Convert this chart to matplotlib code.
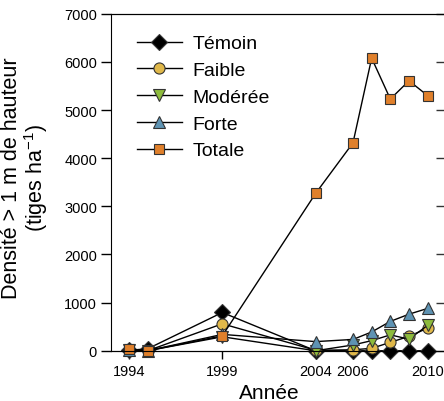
import matplotlib
matplotlib.use("Agg")
import matplotlib.pyplot as plt

plt.rcParams['font.family'] = ['Liberation Sans', 'DejaVu Sans']
plt.rcParams['mathtext.default'] = 'regular'

years = [1994, 1995, 1999, 2004, 2006, 2007, 2008, 2009, 2010]
temoin = [10, 40, 795, 0, 0, 0, 0, 0, 0]
faible = [25, 0, 560, 10, 20, 50, 175, 300, 470]
moderee = [15, 0, 290, 0, 120, 210, 330, 240, 530]
forte = [20, 0, 340, 190, 235, 390, 610, 760, 880]
totale = [35, 0, 310, 3270, 4320, 6080, 5230, 5610, 5300]

xticks = [1994, 1999, 2004, 2006, 2010]
yticks = [0, 1000, 2000, 3000, 4000, 5000, 6000, 7000]

series = [
    ('Témoin', temoin, 'D', 'black', 8.5),
    ('Faible', faible, 'o', '#E0B84A', 8),
    ('Modérée', moderee, 'v', '#8DBB3C', 8.5),
    ('Forte', forte, '^', '#5E93B3', 8.5),
    ('Totale', totale, 's', '#E0802B', 7.5),
]

fig = plt.figure(figsize=(4.44, 4.02), dpi=100)
ax = fig.add_axes([0.25, 0.125, 0.749, 0.838])

for name, vals, mk, col, ms in series:
    ax.plot(years, vals, color='black', lw=1, marker=mk, markersize=ms,
            markerfacecolor=col, markeredgecolor='#333333', markeredgewidth=0.8,
            label=name, clip_on=False, zorder=3)

ax.set_xlim(1993.04, 2010.85)
ax.set_ylim(0, 7000)
ax.set_xticks(xticks)
ax.set_yticks(yticks)
ax.tick_params(axis='both', labelsize=10.5, width=1)
ax.tick_params(axis='y', length=7, direction='out', pad=3)
ax.tick_params(axis='x', length=6, direction='out')
ax.spines['right'].set_visible(False)

# right-hand ticks pointing inward
ax2 = ax.twinx()
ax2.set_ylim(0, 7000)
ax2.set_yticks(yticks)
ax2.tick_params(axis='y', direction='in', length=5.5, width=1, labelright=False,
                right=True, color='#333333')
ax2.spines['right'].set_visible(False)
ax2.spines['left'].set_visible(False)

ax.set_xlabel('Année', fontsize=15)
ax.xaxis.set_label_coords(0.476, -0.095)
ax.set_ylabel('Densité > 1 m de hauteur\n(tiges ha$^{-1}$)', fontsize=15.5, linespacing=1.0)
ax.yaxis.set_label_coords(-0.183, 0.515)

ax.legend(loc='upper left', bbox_to_anchor=(0.055, 0.961), frameon=False, fontsize=14,
          handlelength=2.3, handletextpad=0.57, labelspacing=0.47, borderaxespad=0)

fig.savefig('out.png', dpi=100)
